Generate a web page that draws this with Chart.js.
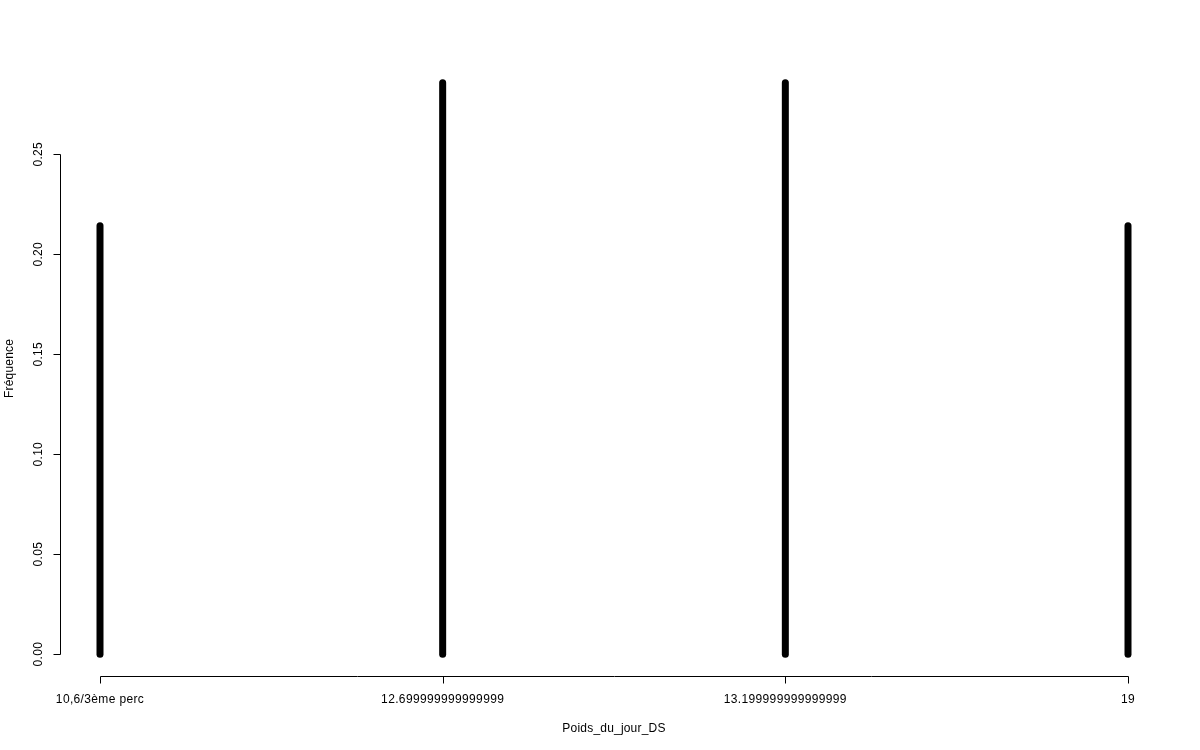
<!DOCTYPE html>
<html>
<head>
<meta charset="utf-8">
<script src="https://cdn.jsdelivr.net/npm/chart.js@4/dist/chart.umd.min.js"></script>
<style>
  html, body { margin: 0; padding: 0; background: #ffffff; }
  #c { display: block; }
</style>
</head>
<body>
<canvas id="c" width="1200" height="750"></canvas>
<script>
// ---- data ----
const categories = ["10,6/3ème perc", "12.699999999999999", "13.199999999999999", "19"];
const frequencies = [0.2142857, 0.2857143, 0.2857143, 0.2142857];
const yTickValues = [0, 0.05, 0.10, 0.15, 0.20, 0.25];
const yTickLabels = ["0.00", "0.05", "0.10", "0.15", "0.20", "0.25"];
const xTitle = "Poids_du_jour_DS";
const yTitle = "Fréquence";

// R-style 4% axis expansion
const yMaxData = Math.max(...frequencies);
const yPad = 0.04 * yMaxData;

const FONT = '"Liberation Sans", Arial, sans-serif';

// draw the bar elements as thick round-capped spikes (R type="h", lwd large)
const spikes = {
  id: 'spikes',
  afterDatasetsDraw(chart) {
    const ctx = chart.ctx;
    ctx.save();
    ctx.strokeStyle = '#000';
    ctx.lineWidth = 7;
    ctx.lineCap = 'round';
    chart.getDatasetMeta(0).data.forEach(el => {
      ctx.beginPath();
      ctx.moveTo(el.x, el.base);
      ctx.lineTo(el.x, el.y);
      ctx.stroke();
    });
    ctx.restore();
  }
};

const rAxes = {
  id: 'rAxes',
  afterDraw(chart) {
    const ctx = chart.ctx;
    const xs = chart.scales.x, ys = chart.scales.y;
    const area = chart.chartArea;
    ctx.save();
    ctx.strokeStyle = '#000';
    ctx.fillStyle = '#000';
    ctx.lineWidth = 1;
    try { ctx.letterSpacing = '0.3px'; } catch (e) {}

    // y axis
    const axX = Math.round(area.left - 40) + 0.5;
    const y0 = ys.getPixelForValue(yTickValues[0]);
    const y1 = ys.getPixelForValue(yTickValues[yTickValues.length - 1]);
    ctx.beginPath();
    ctx.moveTo(axX, Math.round(y0) + 0.5);
    ctx.lineTo(axX, Math.round(y1) + 0.5);
    yTickValues.forEach(v => {
      const py = Math.round(ys.getPixelForValue(v)) + 0.5;
      ctx.moveTo(axX, py);
      ctx.lineTo(axX - 7, py);
    });
    ctx.stroke();

    ctx.font = '12px ' + FONT;
    ctx.textAlign = 'center';
    ctx.textBaseline = 'middle';
    yTickValues.forEach((v, i) => {
      const py = ys.getPixelForValue(v);
      ctx.save();
      ctx.translate(axX - 21.5, py);
      ctx.rotate(-Math.PI / 2);
      ctx.fillText(yTickLabels[i], 0, 0);
      ctx.restore();
    });

    // x axis
    const axY = Math.round(area.bottom) - 0.5;
    const xa = xs.getPixelForValue(0);
    const xb = xs.getPixelForValue(categories.length - 1);
    ctx.beginPath();
    ctx.moveTo(Math.round(xa) + 0.5, axY);
    ctx.lineTo(Math.round(xb) + 0.5, axY);
    categories.forEach((c, i) => {
      const px = Math.round(xs.getPixelForValue(i)) + 0.5;
      ctx.moveTo(px, axY);
      ctx.lineTo(px, axY + 7);
    });
    ctx.stroke();

    ctx.font = '12px ' + FONT;
    try { ctx.letterSpacing = '0.35px'; } catch (e) {}
    ctx.textAlign = 'center';
    ctx.textBaseline = 'middle';
    categories.forEach((c, i) => {
      ctx.fillText(c, xs.getPixelForValue(i), axY + 23);
    });

    // titles
    try { ctx.letterSpacing = '0.2px'; } catch (e) {}
    ctx.font = '12px ' + FONT;
    ctx.fillText(xTitle, (area.left + area.right) / 2, axY + 52);
    ctx.save();
    ctx.translate(10, (area.top + area.bottom) / 2);
    ctx.rotate(-Math.PI / 2);
    ctx.fillText(yTitle, 0, 0);
    ctx.restore();

    ctx.restore();
  }
};

new Chart(document.getElementById('c'), {
  type: 'bar',
  data: {
    labels: categories,
    datasets: [{
      data: frequencies,
      backgroundColor: 'rgba(0,0,0,0)',
      borderWidth: 0,
      barThickness: 7,
      clip: false
    }]
  },
  options: {
    responsive: false,
    animation: false,
    devicePixelRatio: 1,
    layout: { padding: { left: 100, right: 72, top: 60, bottom: 73 } },
    plugins: { legend: { display: false }, tooltip: { enabled: false }, title: { display: false } },
    scales: {
      x: { type: 'category', offset: false, display: false, grid: { display: false } },
      y: { type: 'linear', display: false, min: -yPad, max: yMaxData + yPad, grid: { display: false } }
    }
  },
  plugins: [spikes, rAxes]
});
</script>
</body>
</html>
